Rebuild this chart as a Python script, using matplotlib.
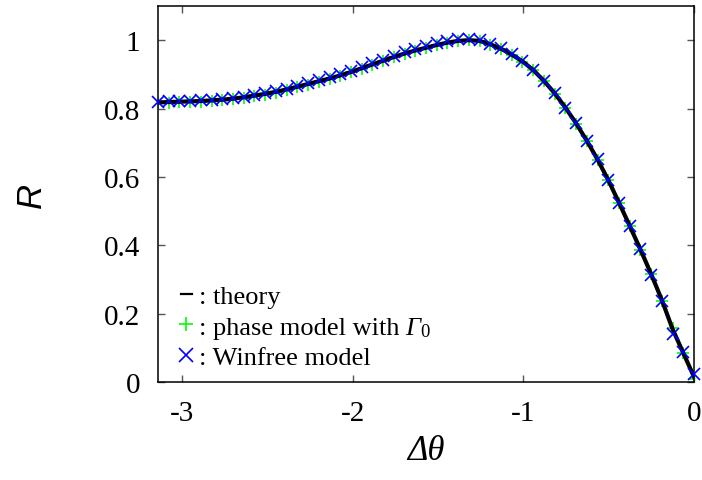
import numpy as np
import matplotlib
matplotlib.use('Agg')
import matplotlib.pyplot as plt
from matplotlib.lines import Line2D

plt.rcParams['font.family'] = ['Liberation Serif', 'DejaVu Serif']
plt.rcParams['axes.unicode_minus'] = False

# phase difference grid: -pi .. 0 in 50 steps
dtheta = np.linspace(-np.pi, 0, 51)

# theoretical order parameter R
r_theory = [0.818, 0.819, 0.820, 0.821, 0.822, 0.824, 0.826, 0.829, 0.833, 0.838,
            0.843, 0.849, 0.856, 0.864, 0.872, 0.880, 0.888, 0.897, 0.907, 0.918,
            0.929, 0.940, 0.951, 0.961, 0.970, 0.978, 0.986, 0.993, 0.998, 1.000,
            0.998, 0.988, 0.975, 0.958, 0.938, 0.913, 0.881, 0.845, 0.803, 0.757,
            0.706, 0.651, 0.591, 0.525, 0.457, 0.388, 0.316, 0.240, 0.155, 0.085,
            0.015]

# phase model with Gamma_0
r_phase = [0.815, 0.817, 0.818, 0.819, 0.820, 0.822, 0.824, 0.827, 0.831, 0.836,
           0.841, 0.847, 0.854, 0.862, 0.870, 0.878, 0.887, 0.896, 0.906, 0.917,
           0.928, 0.939, 0.950, 0.960, 0.969, 0.978, 0.986, 0.993, 0.998, 1.000,
           0.997, 0.987, 0.974, 0.957, 0.937, 0.912, 0.880, 0.844, 0.802, 0.756,
           0.705, 0.650, 0.590, 0.524, 0.456, 0.387, 0.315, 0.238, 0.158, 0.085,
           0.008]

# Winfree model
r_winfree = [0.820, 0.822, 0.822, 0.823, 0.824, 0.826, 0.828, 0.831, 0.835, 0.840,
             0.845, 0.851, 0.858, 0.866, 0.874, 0.883, 0.891, 0.900, 0.910, 0.921,
             0.932, 0.943, 0.954, 0.965, 0.975, 0.984, 0.992, 0.998, 1.003, 1.004,
             1.001, 0.990, 0.977, 0.960, 0.940, 0.914, 0.881, 0.846, 0.803, 0.757,
             0.706, 0.651, 0.590, 0.523, 0.456, 0.388, 0.312, 0.237, 0.140, 0.087,
             0.023]

fig = plt.figure(figsize=(7.02, 4.81), dpi=100)
ax = fig.add_axes([0.2251, 0.2037, 0.7635, 0.7817])

ax.plot(dtheta, r_phase, ls='none', marker='+', ms=8, mew=1.2,
        color='#00ff00', zorder=2)
ax.plot(dtheta, r_theory, color='black', lw=3, zorder=3)
ax.plot(dtheta, r_winfree, ls='none', marker='x', ms=8, mew=1.2,
        color='#0000ff', zorder=4, clip_on=False)

ax.set_xlim(-np.pi, 0)
ax.set_ylim(0, 1.1)
ax.set_xticks([-3, -2, -1, 0])
ax.set_xticklabels(['-3', '-2', '-1', '0'])
ax.set_yticks([0, 0.2, 0.4, 0.6, 0.8, 1])
ax.set_yticklabels(['0', '0.2', '0.4', '0.6', '0.8', '1'])
ax.tick_params(direction='in', length=5, width=1, labelsize=21,
               top=True, right=True, pad=13, color='#555555')
for s in ax.spines.values():
    s.set_linewidth(1.1)

ax.set_xlabel('Δθ', fontsize=25, style='italic', labelpad=6)
ax.set_ylabel('R', fontsize=25, family='Liberation Sans', style='italic',
              labelpad=40)

handles = [
    Line2D([], [], color='black', lw=1.6),
    Line2D([], [], ls='none', marker='+', ms=10, mew=1.2, color='#00ff00'),
    Line2D([], [], ls='none', marker='x', ms=10, mew=1.2, color='#0000ff'),
]
labels = [': theory', ': phase model with', ': Winfree model']
leg = ax.legend(handles, labels, loc='lower left', bbox_to_anchor=(0.042, 0.035),
                frameon=False, fontsize=19, handlelength=0.45, handletextpad=0.25,
                labelspacing=0.26, borderpad=0, borderaxespad=0)

# italic Gamma with subscript 0 after the second legend entry
# (zorder above the legend so the legend text is placed first)
gam = ax.annotate('Γ', xy=(1, 0), xycoords=leg.get_texts()[1],
                  xytext=(4, 0), textcoords='offset points', zorder=6,
                  fontsize=19, style='italic', ha='left', va='bottom')
ax.annotate('0', xy=(1, 0), xycoords=gam, xytext=(0, -1), zorder=7,
            textcoords='offset points', fontsize=13.5, ha='left', va='bottom')

fig.savefig('out.png', dpi=100)
